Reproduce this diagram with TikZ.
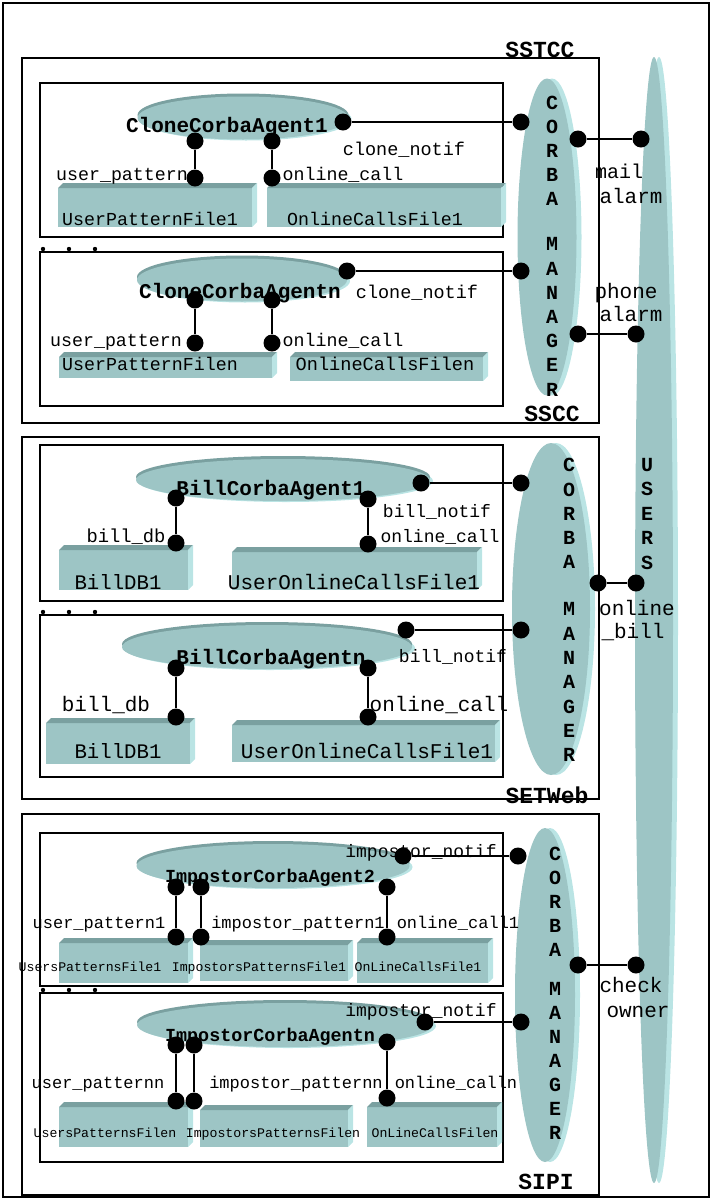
\documentclass[tikz,border=0pt]{standalone}
\usepackage{fontspec}
\setmonofont{Liberation Mono}
\usetikzlibrary{shapes.geometric}

\definecolor{tealf}{RGB}{157,197,197}
\definecolor{tealdk}{RGB}{122,160,160}
\definecolor{teallt}{RGB}{186,228,228}

\newcommand{\fsz}[1]{\fontsize{#1}{#1}\selectfont}
% 3D file box: x1 y1 x2 y2
\newcommand{\tdbox}[4]{%
  \fill[tealf] (#1,#2+5) rectangle (#3-5,#4);
  \fill[tealdk] (#1,#2+5) -- (#1+5,#2) -- (#3,#2) -- (#3-5,#2+5) -- cycle;
  \fill[teallt] (#3-5,#2+5) -- (#3,#2) -- (#3,#4-5) -- (#3-5,#4) -- cycle;
}

\begin{document}
\begin{tikzpicture}[x=1pt, y=-1pt,
    frame/.style={draw, line width=1.6pt},
    grp/.style={draw, line width=2.4pt},
    agent/.style={ellipse, fill=tealf, inner sep=0,
      preaction={fill=teallt, transform canvas={xshift=3pt, yshift=-1pt}},
      preaction={fill=tealdk, transform canvas={yshift=3pt}}},
    mgr/.style={ellipse, fill=tealf, inner sep=0,
      preaction={fill=teallt, transform canvas={xshift=5pt}}},
    dotc/.style={circle, fill=black, minimum size=17, inner sep=0},
    wire/.style={line width=1.8pt},
    lbl/.style={inner sep=0, anchor=base, yshift={-0.28*#1}, font=\ttfamily\fsz{#1}},
    lbl/.default=18,
    blbl/.style={lbl=#1, font=\ttfamily\bfseries\fsz{#1}},
    column/.style={inner sep=0, align=center, font=\ttfamily\bfseries\fontsize{20}{#1}\selectfont},
]
\useasboundingbox (0,0) rectangle (712,1200);

% frames
\draw[frame] (3,3) rectangle (709,1197);
\draw[grp] (22,58) rectangle (599,423);
\draw[grp] (40,83) rectangle (503,237);
\draw[grp] (40,252) rectangle (503,406);
\draw[grp] (22,437) rectangle (599,799);
\draw[grp] (40,445) rectangle (503,601);
\draw[grp] (40,615) rectangle (503,777);
\draw[grp] (22,814) rectangle (599,1195);
\draw[grp] (40,833) rectangle (503,986);
\draw[grp] (40,993) rectangle (503,1162);
\foreach \yy in {249,612,990}
  \foreach \xx in {43,69,95}
    \fill (\xx,\yy) circle (2.2);

% managers and users
\node[mgr, minimum width=59, minimum height=317] (mgr1) at (547,237) {};
\node[mgr, minimum width=78, minimum height=332] (mgr2) at (551,609) {};
\node[mgr, minimum width=60, minimum height=334] (mgr3) at (545,995) {};
\node[mgr, minimum width=38, minimum height=1126] (users) at (654,620) {};

% agents
\node[agent, minimum width=211, minimum height=43] (cca1) at (243,118) {};
\node[agent, minimum width=210, minimum height=43] (ccan) at (242,280) {};
\node[agent, minimum width=294, minimum height=42] (bca1) at (283,480) {};
\node[agent, minimum width=290, minimum height=44] (bcan) at (267,647) {};
\node[agent, minimum width=273, minimum height=44] (ica2) at (273,866) {};
\node[agent, minimum width=296, minimum height=44] (ican) at (285,1025) {};

% files
\tdbox{58}{183}{257}{227}
\tdbox{267}{183}{506}{227}
\tdbox{59}{352}{277}{378}
\tdbox{290}{352}{488}{381}
\tdbox{59}{545}{193}{590}
\tdbox{232}{547}{482}{590}
\tdbox{46}{718}{195}{764}
\tdbox{232}{720}{500}{762}
\tdbox{59}{938}{193}{983}
\tdbox{200}{940}{353}{981}
\tdbox{357}{938}{493}{983}
\tdbox{59}{1102}{193}{1147}
\tdbox{200}{1105}{353}{1147}
\tdbox{367}{1102}{502}{1147}

% group texts
\node[blbl=23] (sstcc) at (540,51) {SSTCC};
\node[blbl=23] (sscc) at (552,415) {SSCC};
\node[blbl=23] (setweb) at (547,797) {SETWeb};
\node[blbl=23] (sipi) at (546,1183) {SIPI};
\node[column=24.2] (mgr1t) at (552,246) {C\\O\\R\\B\\A\\[20.8pt]M\\A\\N\\A\\G\\E\\R};
\node[column=24.3] (mgr2t) at (569,610) {C\\O\\R\\B\\A\\[22.7pt]M\\A\\N\\A\\G\\E\\R};
\node[column=24] (mgr3t) at (555,993) {C\\O\\R\\B\\A\\[15pt]M\\A\\N\\A\\G\\E\\R};
\node[column=24.5] (userst) at (647,514) {U\\S\\E\\R\\S};

% agent texts
\node[blbl=21] (cca1t) at (227,127) {CloneCorbaAgent1};
\node[blbl=21] (ccant) at (240,293) {CloneCorbaAgentn};
\node[blbl=21] (bca1t) at (271,490) {BillCorbaAgent1};
\node[blbl=21] (bcant) at (271,659) {BillCorbaAgentn};
\node[blbl=18.4] (ica2t) at (270,877) {ImpostorCorbaAgent2};
\node[blbl=18.4] (icant) at (270,1036) {ImpostorCorbaAgentn};

% file texts
\node[lbl=18.3] (f1) at (150,220) {UserPatternFile1};
\node[lbl=18.3] (f2) at (375,220) {OnlineCallsFile1};
\node[lbl=18.3] (f3) at (150,365) {UserPatternFilen};
\node[lbl=18.6] (f4) at (385,365) {OnlineCallsFilen};
\node[lbl=20.7] (f5) at (118,584) {BillDB1};
\node[lbl=21] (f6) at (354,584) {UserOnlineCallsFile1};
\node[lbl=20.7] (f7) at (118,753) {BillDB1};
\node[lbl=21] (f8) at (367,753) {UserOnlineCallsFile1};
\node[lbl=13.2] (f9) at (90,968) {UsersPatternsFile1};
\node[lbl=13.2] (f10) at (259,968) {ImpostorsPatternsFile1};
\node[lbl=13.2] (f11) at (418,968) {OnLineCallsFile1};
\node[lbl=13.2] (f12) at (105,1134) {UsersPatternsFilen};
\node[lbl=13.2] (f13) at (273,1134) {ImpostorsPatternsFilen};
\node[lbl=13.2] (f14) at (435,1134) {OnLineCallsFilen};

% connector texts
\node[lbl=18.5] (t1) at (404,150) {clone\_notif};
\node[lbl=18.3] (t2) at (122,175) {user\_pattern};
\node[lbl=18.3] (t3) at (343,175) {online\_call};
\node[lbl=18.5] (t4) at (417,293) {clone\_notif};
\node[lbl=18.3] (t5) at (116,341) {user\_pattern};
\node[lbl=18.3] (t6) at (343,341) {online\_call};
\node[lbl=18.8] (t7) at (126,537) {bill\_db};
\node[lbl=18] (t8) at (437,512) {bill\_notif};
\node[lbl=18] (t9) at (440,537) {online\_call};
\node[lbl=21] (t10) at (106,706) {bill\_db};
\node[lbl=18] (t11) at (453,657) {bill\_notif};
\node[lbl=21] (t12) at (439,706) {online\_call};
\node[lbl=18] (t13) at (421,852) {impostor\_notif};
\node[lbl=17] (t14) at (99,924) {user\_pattern1};
\node[lbl=17] (t15) at (298,924) {impostor\_pattern1};
\node[lbl=17] (t16) at (458,924) {online\_call1};
\node[lbl=18] (t17) at (421,1011) {impostor\_notif};
\node[lbl=17] (t18) at (98,1084) {user\_patternn};
\node[lbl=17] (t19) at (296,1084) {impostor\_patternn};
\node[lbl=17] (t20) at (456,1084) {online\_calln};
\node[lbl=20] (t21) at (619,173) {mail};
\node[lbl=21] (t22) at (631,198) {alarm};
\node[lbl=21] (t23) at (626,293) {phone};
\node[lbl=21] (t24) at (631,316) {alarm};
\node[lbl=21] (t25) at (637,610) {online};
\node[lbl=21] (t26) at (633,633) {\_bill};
\node[lbl=21] (t27) at (631,987) {check};
\node[lbl=21] (t28) at (638,1012) {owner};

% connection points
\node[dotc] (d1a) at (195,141) {};
\node[dotc] (d1b) at (195,178) {};
\node[dotc] (d1c) at (272,141) {};
\node[dotc] (d1d) at (272,178) {};
\node[dotc] (d1e) at (343,122) {};
\node[dotc] (d1f) at (521,122) {};
\node[dotc] (d1g) at (578,139) {};
\node[dotc] (d1h) at (641,139) {};
\node[dotc] (d2a) at (195,300) {};
\node[dotc] (d2b) at (195,343) {};
\node[dotc] (d2c) at (272,300) {};
\node[dotc] (d2d) at (272,343) {};
\node[dotc] (d2e) at (347,271) {};
\node[dotc] (d2f) at (521,271) {};
\node[dotc] (d2g) at (578,334) {};
\node[dotc] (d2h) at (636,334) {};
\node[dotc] (d3a) at (176,498) {};
\node[dotc] (d3b) at (176,543) {};
\node[dotc] (d3c) at (368,499) {};
\node[dotc] (d3d) at (368,544) {};
\node[dotc] (d3e) at (421,483) {};
\node[dotc] (d3f) at (521,483) {};
\node[dotc] (d3g) at (598,583) {};
\node[dotc] (d3h) at (636,583) {};
\node[dotc] (d4a) at (176,668) {};
\node[dotc] (d4b) at (176,717) {};
\node[dotc] (d4c) at (368,668) {};
\node[dotc] (d4d) at (368,717) {};
\node[dotc] (d4e) at (406,630) {};
\node[dotc] (d4f) at (521,630) {};
\node[dotc] (d5a) at (176,887) {};
\node[dotc] (d5b) at (176,937) {};
\node[dotc] (d5c) at (201,887) {};
\node[dotc] (d5d) at (201,937) {};
\node[dotc] (d5e) at (387,887) {};
\node[dotc] (d5f) at (387,937) {};
\node[dotc] (d5g) at (403,856) {};
\node[dotc] (d5h) at (518,856) {};
\node[dotc] (d5i) at (578,965) {};
\node[dotc] (d5j) at (636,965) {};
\node[dotc] (d6a) at (176,1045) {};
\node[dotc] (d6b) at (176,1101) {};
\node[dotc] (d6c) at (194,1045) {};
\node[dotc] (d6d) at (194,1101) {};
\node[dotc] (d6e) at (387,1042) {};
\node[dotc] (d6f) at (387,1098) {};
\node[dotc] (d6g) at (425,1022) {};
\node[dotc] (d6h) at (521,1022) {};

% connectors
\foreach \a/\b in {d1a/d1b, d1c/d1d, d1e/d1f, d1g/d1h,
                   d2a/d2b, d2c/d2d, d2e/d2f, d2g/d2h,
                   d3a/d3b, d3c/d3d, d3e/d3f, d3g/d3h,
                   d4a/d4b, d4c/d4d, d4e/d4f,
                   d5a/d5b, d5c/d5d, d5e/d5f, d5g/d5h, d5i/d5j,
                   d6a/d6b, d6c/d6d, d6e/d6f, d6g/d6h}
  \draw[wire] (\a) -- (\b);

\end{tikzpicture}
\end{document}
